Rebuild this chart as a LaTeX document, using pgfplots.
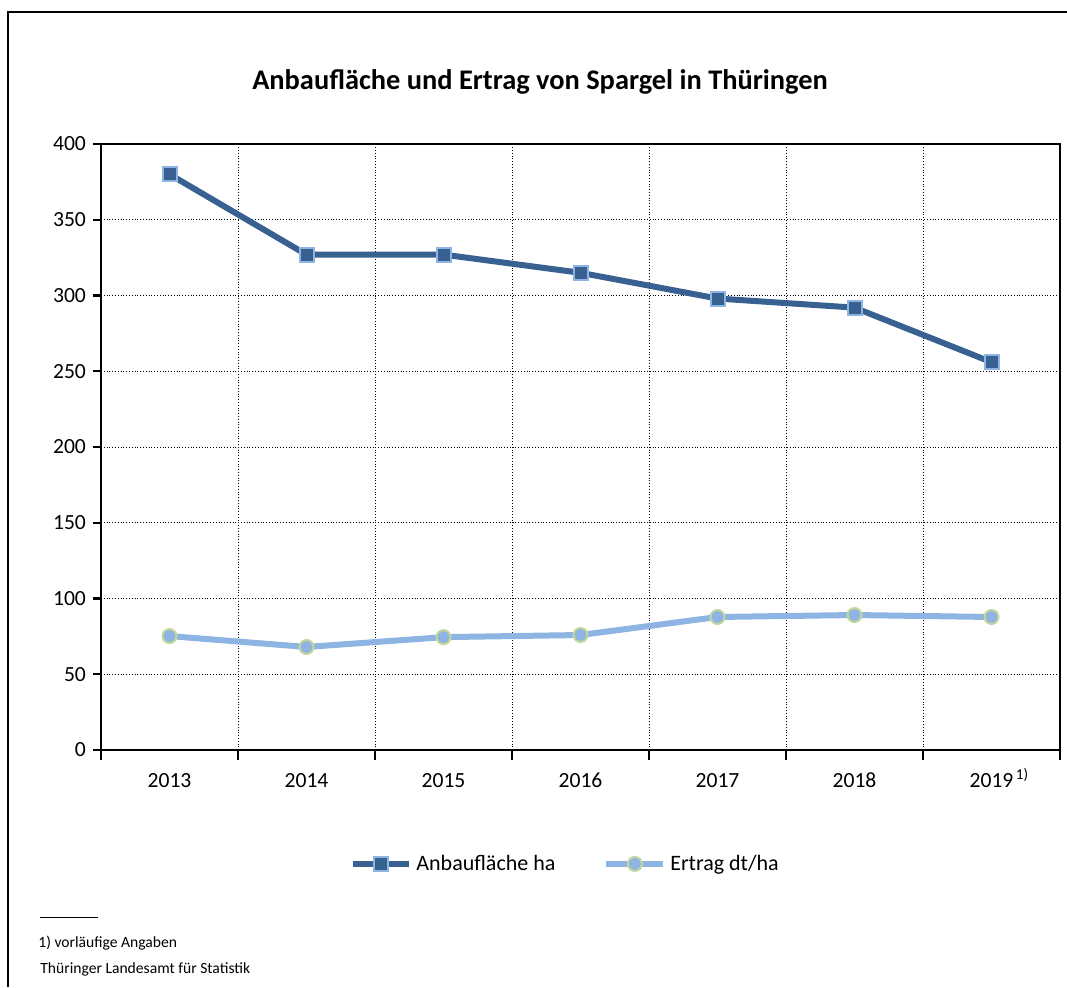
\documentclass[border=0pt]{standalone}
\usepackage{pgfplots}
\pgfplotsset{compat=1.18}
\usepackage{fontspec}
\setmainfont{Carlito}
\definecolor{darkb}{RGB}{56,97,146}
\definecolor{lightb}{RGB}{142,180,227}
\definecolor{greenb}{RGB}{195,214,155}
\begin{document}
\begin{tikzpicture}
\path[use as bounding box] (0,0) rectangle (533.5pt,-493.5pt);
\draw[line width=1pt] (4pt,-493.5pt) -- (4pt,-6pt) -- (533.5pt,-6pt);
\node[font=\bfseries\fontsize{14.2}{16}\selectfont] at (270pt,-41pt) {Anbaufläche und Ertrag von Spargel in Thüringen};
\begin{axis}[
  at={(50.5pt,-72pt)}, anchor=north west,
  width=479.5pt, height=303pt, scale only axis,
  xmin=-0.5, xmax=6.5, ymin=0, ymax=400,
  xtick={0,...,6},
  xticklabels={2013,2014,2015,2016,2017,2018,{2019\rlap{\smash{\textsuperscript{\,1)}}}}},
  minor xtick={-0.5,0.5,...,6.5},
  major x tick style={draw=none},
  ytick={0,50,...,400},
  tick align=outside, xtick pos=bottom, ytick pos=left,
  major tick length=4pt, minor tick length=5pt,
  ymajorgrids, xminorgrids,
  major grid style={densely dotted, black, line width=0.5pt},
  minor grid style={densely dotted, black, line width=0.5pt},
  tick style={black, line width=1.2pt},
  axis line style={black, line width=1.2pt},
  /pgf/number format/assume math mode=true,
  ticklabel style={font=\fontsize{10.8}{12}\selectfont},
  xticklabel style={yshift=-4pt},
  legend style={at={(0.485,-0.188)}, anchor=center, draw=none, legend columns=2,
    font=\fontsize{11}{13}\selectfont, /tikz/every even column/.append style={column sep=22pt}},
  legend image code/.code={\draw[mark repeat=2,mark phase=2] plot coordinates {(0cm,0cm)(0.5cm,0cm)(1.0cm,0cm)};},
]
\addplot[darkb, line width=3pt, mark=square*, mark size=3.5pt, mark options={fill=darkb, draw=lightb, line width=1pt}]
coordinates {(0,380) (1,327) (2,327) (3,315) (4,298) (5,292) (6,256)};
\addlegendentry{Anbaufläche ha}
\addplot[lightb, line width=3pt, mark=*, mark size=3.5pt, mark options={fill=lightb, draw=greenb, line width=1pt}]
coordinates {(0,75.2) (1,68) (2,74.5) (3,75.9) (4,87.8) (5,89.1) (6,87.8)};
\addlegendentry{Ertrag dt/ha}
\end{axis}
\draw[line width=0.5pt] (20pt,-458.5pt) -- (49pt,-458.5pt);
\node[anchor=west, inner sep=0pt, font=\fontsize{7.8}{9}\selectfont] at (19pt,-471.5pt) {1) vorläufige Angaben};
\node[anchor=west, inner sep=0pt, font=\fontsize{7.8}{9}\selectfont] at (20pt,-484.5pt) {Thüringer Landesamt für Statistik};
\end{tikzpicture}
\end{document}
